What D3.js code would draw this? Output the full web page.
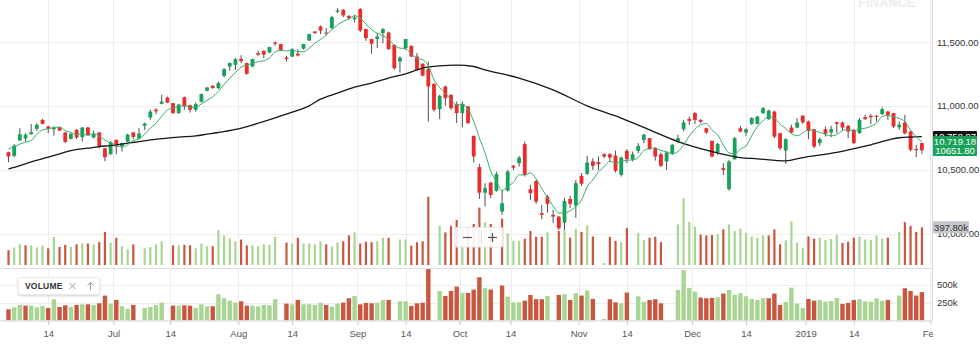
<!DOCTYPE html>
<html>
<head>
<meta charset="utf-8">
<script src="https://cdn.jsdelivr.net/npm/d3@7/dist/d3.min.js"></script>
<style>
  html, body { margin: 0; padding: 0; background: #fff; }
  svg { display: block; font-family: "Liberation Sans", Arial, Helvetica, sans-serif; }
</style>
</head>
<body>
<svg id="chart" width="980" height="347"></svg>
<script>
// ---- daily sessions, index 0 = first bar on screen ----
const opens = [10637,10608,10728,10744,10778,10820,10890,10838,10817,10833,10791,10741,10812,10755,10830,10752,10791,10668,10621,10733,
  10681,10720,10791,10744,10843,10908,10969,11016,11065,11021,10943,11068,11005,10969,11031,11118,11157,11139,11235,11308,
  11321,11368,11335,11308,11413,11431,11418,11496,11484,11378,11386,11408,11447,11512,11582,11621,11574,11609,11737,11752,
  11705,11679,11758,11601,11523,11523,11570,11574,11478,11347,11452,11470,11386,11329,11288,11172,10974,11151,11086,11013,
  10943,10995,10765,10520,10320,10399,10334,10172,10336,10530,10551,10700,10347,10412,10159,10289,10146,10132,10085,10271,
  10219,10451,10467,10564,10559,10621,10621,10610,10459,10647,10582,10647,10734,10747,10668,10621,10564,10624,10720,10817,
  10898,10943,10890,10825,10726,10637,10512,10347,10582,10825,10791,10859,10859,10943,10896,10955,10786,10650,10830,10830,
  10922,10877,10817,10708,10817,10791,10872,10869,10843,10812,10786,10911,10922,10922,10935,10955,10943,10832,10869,10799,
  10662,10708];
const highs = [10640,10700,10825,10786,10857,10864,10898,10843,10838,10835,10796,10785,10817,10835,10835,10806,10796,10671,10726,10737,
  10712,10781,10796,10825,10869,10969,10982,11086,11073,11023,11016,11073,11010,11026,11096,11149,11161,11190,11295,11339,
  11374,11397,11337,11371,11431,11433,11462,11504,11486,11392,11452,11444,11486,11564,11585,11629,11609,11705,11766,11758,
  11709,11713,11766,11603,11525,11570,11609,11582,11480,11386,11525,11472,11413,11335,11347,11175,11086,11159,11089,11034,
  11034,10998,10767,10545,10394,10402,10485,10342,10498,10538,10608,10720,10381,10416,10224,10302,10185,10138,10281,10295,
  10420,10473,10608,10590,10603,10629,10629,10650,10603,10661,10642,10708,10781,10749,10676,10634,10642,10702,10773,10890,
  10916,10951,10896,10828,10728,10708,10551,10577,10755,10843,10825,10911,10922,10990,10969,10963,10788,10747,10851,10904,
  10929,10885,10820,10752,10838,10843,10877,10877,10851,10820,10904,10929,10935,10929,10990,10961,10945,10877,10929,10804,
  10694,10712];
const lows = [10559,10598,10726,10720,10773,10804,10855,10786,10767,10804,10708,10738,10741,10720,10765,10744,10668,10567,10616,10621,
  10642,10715,10739,10739,10812,10890,10935,11012,11021,10937,10937,10969,10947,10953,11027,11114,11133,11131,11222,11274,
  11282,11335,11243,11303,11392,11374,11413,11470,11429,11347,11382,11386,11441,11507,11564,11562,11551,11601,11726,11695,
  11674,11653,11578,11509,11408,11452,11491,11439,11282,11261,11439,11382,11277,11230,10877,10955,10896,11000,10969,10864,
  10833,10859,10556,10271,10211,10277,10328,10146,10328,10498,10524,10446,10263,10232,10112,10164,10081,10028,10028,10201,
  10122,10373,10459,10498,10498,10590,10564,10477,10446,10551,10564,10629,10708,10655,10571,10520,10498,10616,10708,10799,
  10851,10857,10864,10781,10595,10616,10459,10336,10577,10791,10765,10851,10855,10937,10890,10747,10655,10545,10781,10825,
  10859,10739,10668,10686,10759,10755,10786,10806,10747,10702,10781,10890,10857,10877,10929,10890,10825,10812,10776,10645,
  10598,10624];
const closes = [10603,10689,10778,10774,10794,10851,10859,10820,10830,10806,10718,10781,10752,10830,10770,10778,10681,10598,10715,10681,
  10708,10775,10757,10783,10861,10955,10957,11034,11026,10943,11010,10995,10969,11013,11092,11143,11139,11178,11288,11335,
  11366,11350,11251,11366,11400,11401,11460,11486,11433,11366,11444,11394,11484,11562,11570,11590,11567,11695,11747,11708,
  11687,11692,11590,11530,11486,11543,11601,11444,11295,11378,11523,11386,11282,11237,11151,10969,11078,11060,10982,10943,
  11013,10864,10603,10320,10355,10302,10465,10237,10485,10516,10595,10459,10316,10250,10146,10232,10132,10041,10255,10232,
  10394,10390,10556,10530,10543,10603,10595,10491,10595,10582,10621,10686,10773,10661,10603,10530,10634,10694,10747,10869,
  10882,10890,10875,10791,10603,10702,10498,10564,10747,10799,10817,10904,10916,10982,10963,10759,10668,10739,10791,10869,
  10871,10804,10681,10739,10781,10817,10859,10830,10799,10708,10890,10896,10911,10914,10974,10929,10838,10852,10784.1,10655,
  10653,10651.80];
// session volume, thousands of shares (0 = not reported)
const volumes = [157,185,218,208,208,185,204,176,298,190,213,190,218,227,227,218,241,349,236,288,
  199,166,218,0,176,190,218,250,0,208,208,213,208,176,227,199,199,368,312,278,
  250,269,208,208,199,218,213,298,0,236,227,288,227,227,218,250,218,194,236,250,
  312,344,227,246,241,250,288,288,0,269,269,204,241,250,720,0,414,344,414,475,
  386,386,433,606,452,433,0,489,335,255,255,278,358,298,298,344,0,358,368,288,
  382,349,419,302,0,21,298,255,241,391,0,339,264,288,298,241,0,0,428,705,
  456,405,321,312,316,326,377,428,358,382,339,302,288,312,312,377,218,260,461,236,
  176,302,278,288,264,274,316,232,246,288,298,269,264,312,278,288,0,349,452,414,
  349,397.8];
// 5-session average: values for the first four bars (their windows start before the first bar)
const fastMaLead = [10663,10680,10700,10716];
// long moving average, read at these bar positions
const slowMaAt = [0,2,4,7,9,11,14,16,18,21,23,25,28,30,33,35,37,40,43,47,50,53,55,58,61,64,67,70,73,76,79,82,84,90,96,102,108,113,118,124,129,132,137,140,146,152,157,161];
const slowMa   = [10506,10532,10561,10598,10624,10650,10668,10681,10689,10708,10720,10734,10747,10755,10765,10778,10791,10815,10850,10905,10950,11000,11052,11099,11147,11178,11217,11251,11295,11313,11319,11308,11282,11217,11125,11000,10904,10812,10720,10642,10595,10585,10569,10595,10635,10695,10750,10758.97];
// date axis
const tickAt   = [7,18.5,28.5,40.5,50,61.5,70,79.5,88.5,100.5,109,120.5,130,140.5,149,162.5];
const tickText = ["14","Jul","14","Aug","14","Sep","14","Oct","14","Nov","14","Dec","14","2019","14","Feb"];
const priceTicks = [10000,10500,11000,11500];
const volumeTicks = [250,500];

// ---- layout & styles ----
const axisX = 932.5, mainBottom = 266, paneTop = 268.5, paneBottom = 320.5;
const upCandle = "#17a25b", downCandle = "#ec2b2b", wickColor = "#4f4f4f";
const upVol = "#a9d592", downVol = "#c9573f";
const gridColor = "#ededed";

const n = closes.length;
const bars = d3.range(n);
const isUpVol = i => i === 0 ? closes[0] >= opens[0] : closes[i] >= closes[i - 1];
const fastMa = closes.map((c, i) => i < fastMaLead.length ? fastMaLead[i] : d3.mean(closes.slice(i - 4, i + 1)));

const x = d3.scaleLinear().domain([0, n - 1]).range([8.5, 921.9]);
const y = d3.scaleLinear().domain([10000, 11500]).range([233.5, 42]);
const vMain = d3.scaleLinear().domain([0, volumes[n - 1]]).range([265, 227.3]);
const vPane = d3.scaleLinear().domain([0, 500]).range([paneBottom, 284.8]);

const svg = d3.select("#chart");
const defs = svg.append("defs");
defs.append("clipPath").attr("id", "clipMain").append("rect")
  .attr("x", 0).attr("y", 0).attr("width", axisX).attr("height", mainBottom);
defs.append("clipPath").attr("id", "clipPane").append("rect")
  .attr("x", 0).attr("y", paneTop).attr("width", axisX).attr("height", paneBottom - paneTop);
defs.append("clipPath").attr("id", "clipDates").append("rect")
  .attr("x", 0).attr("y", paneBottom - 1).attr("width", axisX + 0.5).attr("height", 30);
const shadow = defs.append("filter").attr("id", "soft").attr("x", "-20%").attr("y", "-30%").attr("width", "140%").attr("height", "160%");
shadow.append("feDropShadow").attr("dx", 0).attr("dy", 1).attr("stdDeviation", 1.2).attr("flood-color", "#000").attr("flood-opacity", 0.18);

// watermark
svg.append("text").attr("x", 858).attr("y", 6.5).attr("font-size", 13).attr("font-weight", 700)
  .attr("fill", "#ececec").text("FINANCE");

// grid
const grid = svg.append("g").attr("stroke", gridColor).attr("stroke-width", 1);
grid.selectAll("line.h").data(priceTicks).join("line").attr("class", "h")
  .attr("x1", 0).attr("x2", axisX).attr("y1", d => Math.round(y(d)) + 0.5).attr("y2", d => Math.round(y(d)) + 0.5);
grid.selectAll("line.vh").data(volumeTicks).join("line").attr("class", "vh")
  .attr("x1", 0).attr("x2", axisX).attr("y1", d => Math.round(vPane(d)) + 0.5).attr("y2", d => Math.round(vPane(d)) + 0.5);
grid.selectAll("line.v1").data(tickAt).join("line").attr("class", "v1")
  .attr("x1", d => Math.round(x(d)) + 0.5).attr("x2", d => Math.round(x(d)) + 0.5).attr("y1", 0).attr("y2", mainBottom);
grid.selectAll("line.v2").data(tickAt).join("line").attr("class", "v2")
  .attr("x1", d => Math.round(x(d)) + 0.5).attr("x2", d => Math.round(x(d)) + 0.5).attr("y1", paneTop).attr("y2", paneBottom);

// main pane
const gMain = svg.append("g").attr("clip-path", "url(#clipMain)");
gMain.append("g").selectAll("rect").data(bars.filter(i => volumes[i] > 0)).join("rect")
  .attr("x", i => x(i) - 1.1).attr("width", 2.2)
  .attr("y", i => vMain(volumes[i])).attr("height", i => vMain(0) - vMain(volumes[i]))
  .attr("fill", i => isUpVol(i) ? upVol : downVol);

const candles = gMain.append("g");
candles.selectAll("line").data(bars).join("line")
  .attr("x1", i => x(i)).attr("x2", i => x(i))
  .attr("y1", i => y(highs[i])).attr("y2", i => y(lows[i]))
  .attr("stroke", wickColor).attr("stroke-width", 1);
candles.selectAll("rect").data(bars).join("rect")
  .attr("x", i => x(i) - 1.9).attr("width", 3.8)
  .attr("y", i => y(Math.max(opens[i], closes[i])))
  .attr("height", i => Math.max(1, Math.abs(y(opens[i]) - y(closes[i]))))
  .attr("fill", i => closes[i] >= opens[i] ? upCandle : downCandle);

gMain.append("path")
  .datum(slowMaAt.map((a, k) => [a, slowMa[k]]))
  .attr("d", d3.line().x(d => x(d[0])).y(d => y(d[1])).curve(d3.curveMonotoneX))
  .attr("fill", "none").attr("stroke", "#161616").attr("stroke-width", 1.3);
gMain.append("path")
  .datum(fastMa.map((v, i) => [i, v]))
  .attr("d", d3.line().x(d => x(d[0])).y(d => y(d[1])).curve(d3.curveMonotoneX))
  .attr("fill", "none").attr("stroke", "#3aad6c").attr("stroke-width", 1);

// volume pane
svg.append("line").attr("x1", 0).attr("x2", axisX).attr("y1", paneTop).attr("y2", paneTop)
  .attr("stroke", "#dedede");
svg.append("g").attr("clip-path", "url(#clipPane)")
  .selectAll("rect").data(bars.filter(i => volumes[i] > 0)).join("rect")
  .attr("x", i => x(i) - 2.2).attr("width", 4.4)
  .attr("y", i => vPane(volumes[i])).attr("height", i => vPane(0) - vPane(volumes[i]))
  .attr("fill", i => isUpVol(i) ? upVol : downVol);

// right border
svg.append("line").attr("x1", axisX).attr("x2", axisX).attr("y1", 0).attr("y2", paneBottom)
  .attr("stroke", "#d6d6d6");
svg.append("line").attr("x1", 0).attr("x2", axisX).attr("y1", paneBottom + 0.5).attr("y2", paneBottom + 0.5)
  .attr("stroke", "#cfcfcf");

// price axis
const priceAxis = svg.append("g").attr("transform", `translate(${axisX},0)`)
  .call(d3.axisRight(y).tickValues(priceTicks).tickFormat(d3.format(",.2f")).tickSize(0).tickPadding(4.5));
priceAxis.select(".domain").remove();
priceAxis.attr("font-size", 9.5).attr("font-family", null).attr("color", "#333");

// volume axis
const volAxis = svg.append("g").attr("transform", `translate(${axisX},0)`)
  .call(d3.axisRight(vPane).tickValues(volumeTicks).tickFormat(d => d + "k").tickSize(0).tickPadding(4.5));
volAxis.select(".domain").remove();
volAxis.attr("font-size", 9.5).attr("font-family", null).attr("color", "#333");

// date axis
const dateAxis = svg.append("g").attr("clip-path", "url(#clipDates)")
  .append("g").attr("transform", `translate(0,${paneBottom + 0.5})`)
  .call(d3.axisBottom(x).tickValues(tickAt).tickFormat((d, i) => tickText[i]).tickSize(4).tickPadding(5));
dateAxis.select(".domain").remove();
dateAxis.attr("font-size", 9.5).attr("font-family", null).attr("color", "#555");
dateAxis.selectAll(".tick line").attr("stroke", "#c8c8c8");

// last-value tags
const tagW = 44;
function tag(val, text, fill, color, w) {
  const cy = y(val);
  svg.append("rect").attr("x", axisX + 0.5).attr("y", cy - 5.6).attr("width", w).attr("height", 11.2).attr("rx", 1).attr("fill", fill);
  svg.append("text").attr("x", axisX + 0.5 + w / 2).attr("y", cy + 3.4).attr("text-anchor", "middle")
    .attr("font-size", 9.5).attr("fill", color).text(text);
}
tag(slowMa[slowMa.length - 1], d3.format(",.2f")(slowMa[slowMa.length - 1]), "#111", "#fff", tagW);
tag(fastMa[n - 1], d3.format(",.2f")(fastMa[n - 1]), "#19a35a", "#fff", tagW);
tag(closes[n - 1], d3.format(".2f")(closes[n - 1]), "#19a35a", "#fff", tagW);
{
  const cy = vMain(volumes[n - 1]);
  svg.append("rect").attr("x", axisX + 0.5).attr("y", cy - 6).attr("width", 36).attr("height", 12).attr("rx", 1).attr("fill", "#c3c6cc");
  svg.append("text").attr("x", axisX + 18.5).attr("y", cy + 3.4).attr("text-anchor", "middle")
    .attr("font-size", 9.5).attr("fill", "#333").text(d3.format(".2f")(volumes[n - 1]) + "k");
}

// zoom buttons
const zoomBox = svg.append("g");
zoomBox.append("rect").attr("x", 455).attr("y", 227.5).attr("width", 48).attr("height", 19.5).attr("rx", 2)
  .attr("fill", "#fff").attr("fill-opacity", 0.9).attr("stroke", "#e6e6e6");
zoomBox.append("line").attr("x1", 463).attr("x2", 472).attr("y1", 237.5).attr("y2", 237.5).attr("stroke", "#555").attr("stroke-width", 1.2);
zoomBox.append("line").attr("x1", 481.5).attr("x2", 481.5).attr("y1", 230).attr("y2", 245).attr("stroke", "#e0e0e0");
zoomBox.append("line").attr("x1", 488).attr("x2", 497).attr("y1", 237.5).attr("y2", 237.5).attr("stroke", "#555").attr("stroke-width", 1.2);
zoomBox.append("line").attr("x1", 492.5).attr("x2", 492.5).attr("y1", 233).attr("y2", 242).attr("stroke", "#555").attr("stroke-width", 1.2);

// study legend
const legend = svg.append("g");
legend.append("rect").attr("x", 18.5).attr("y", 277.5).attr("width", 81).attr("height", 17).attr("rx", 2)
  .attr("fill", "#fff").attr("stroke", "#ececec").attr("filter", "url(#soft)");
legend.append("text").attr("x", 25).attr("y", 289).attr("font-size", 8.5).attr("font-weight", 700)
  .attr("fill", "#333").attr("letter-spacing", 0.2).text("VOLUME");
legend.append("path").attr("d", "M69.5,283 L75.5,289 M75.5,283 L69.5,289").attr("stroke", "#9a9a9a").attr("stroke-width", 1).attr("fill", "none");
legend.append("path").attr("d", "M90.5,282.5 L90.5,290 M87.5,285.5 L90.5,282.5 L93.5,285.5").attr("stroke", "#9a9a9a").attr("stroke-width", 1).attr("fill", "none");
</script>
</body>
</html>
